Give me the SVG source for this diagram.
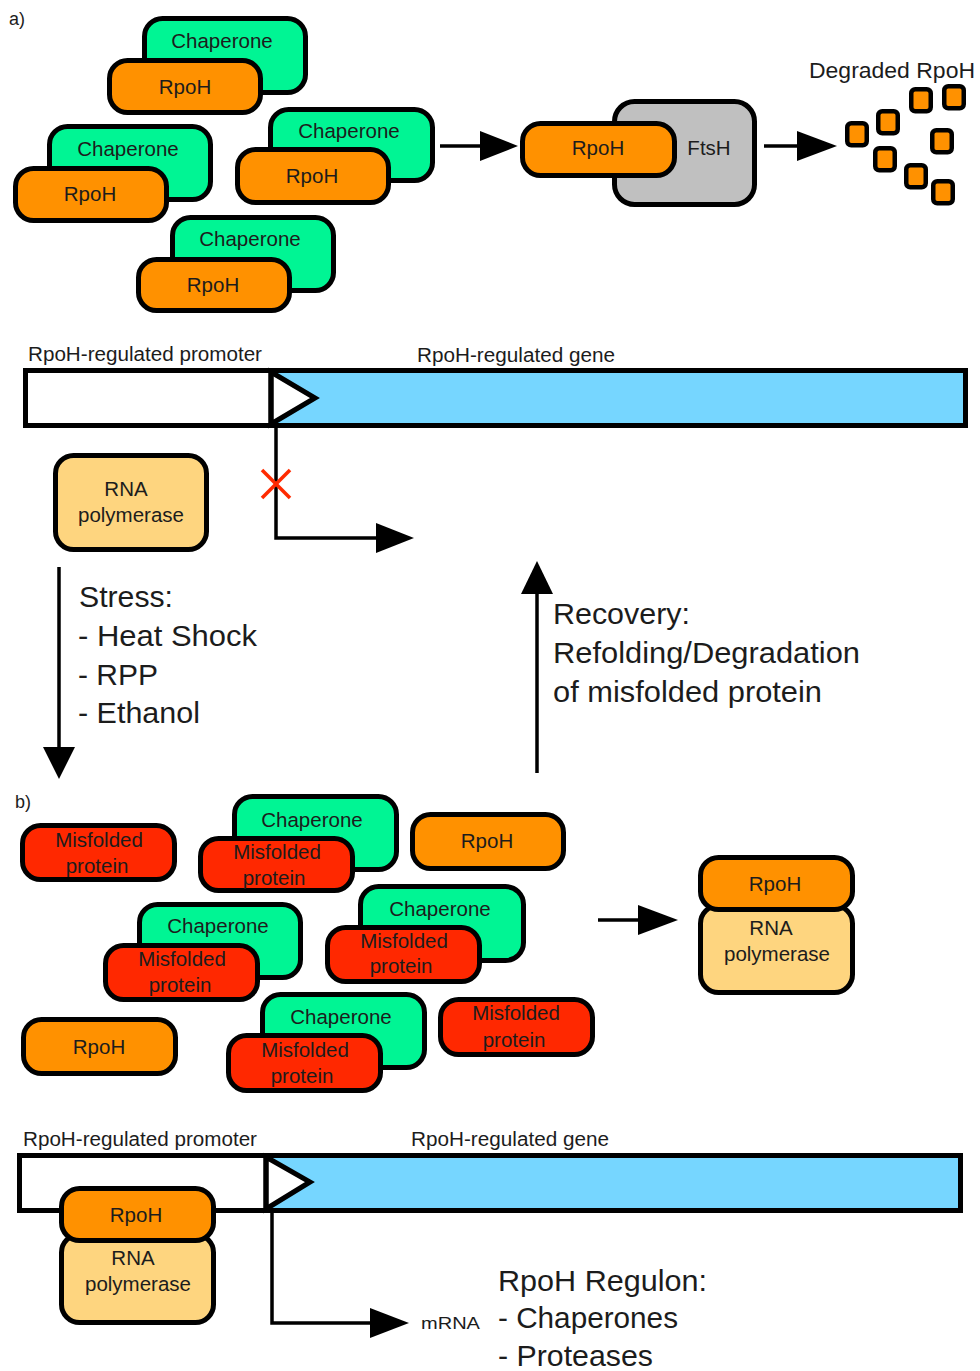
<svg xmlns="http://www.w3.org/2000/svg" width="980" height="1371" viewBox="0 0 980 1371">
<style>
text{font-family:"Liberation Sans",Arial,Helvetica,sans-serif;fill:#1c1c1c}
.m{font-size:20.5px;text-anchor:middle}
.s{font-size:20px}
.b{font-size:29px}
.box{stroke:#000;stroke-width:5}
.ch{fill:#00f594}
.rp{fill:#ff9100}
.mf{fill:#ff2800}
.rn{fill:#fed57f}
.ft{fill:#c0c0c0}
.sq{fill:#ff9100;stroke:#000;stroke-width:4.5}
.ln{stroke:#000;stroke-width:3.5;fill:none}
.hd{fill:#000}
</style>
<rect width="980" height="1371" fill="#fff"/>
<text x="9" y="25" style="font-size:18px">a)</text>
<text x="15" y="808" style="font-size:18px">b)</text>

<!-- Top: chaperone/RpoH complexes -->
<g id="cx1"><rect class="box ch" x="144.5" y="18.5" width="161" height="74" rx="18"/><text class="m" x="222" y="48">Chaperone</text>
<rect class="box rp" x="109.5" y="60.5" width="151" height="52" rx="18"/><text class="m" x="185" y="94">RpoH</text></g>
<g id="cx2"><rect class="box ch" x="49.5" y="126.5" width="161" height="73" rx="18"/><text class="m" x="128" y="156">Chaperone</text>
<rect class="box rp" x="15.5" y="168.5" width="151" height="52" rx="18"/><text class="m" x="90" y="201">RpoH</text></g>
<g id="cx3"><rect class="box ch" x="270.5" y="109.5" width="162" height="71" rx="18"/><text class="m" x="349" y="138">Chaperone</text>
<rect class="box rp" x="237.5" y="149.5" width="151" height="53" rx="18"/><text class="m" x="312" y="183">RpoH</text></g>
<g id="cx4"><rect class="box ch" x="172.5" y="217.5" width="161" height="73" rx="18"/><text class="m" x="250" y="246">Chaperone</text>
<rect class="box rp" x="138.5" y="259.5" width="151" height="51" rx="18"/><text class="m" x="213" y="292">RpoH</text></g>

<g id="ftsh"><rect class="box ft" x="614.5" y="101.5" width="140" height="103" rx="20"/><text class="m" x="709" y="155">FtsH</text>
<rect class="box rp" x="522.5" y="123.5" width="152" height="52" rx="18"/><text class="m" x="598" y="155">RpoH</text></g>

<g id="degraded"><text x="809" y="78" style="font-size:22px" textLength="166" lengthAdjust="spacingAndGlyphs">Degraded RpoH</text>
<rect class="sq" x="847.25" y="123.25" width="19.5" height="22" rx="4"/>
<rect class="sq" x="878.25" y="111.25" width="19.5" height="22" rx="4"/>
<rect class="sq" x="911.25" y="89.25" width="19.5" height="22" rx="4"/>
<rect class="sq" x="944.25" y="86.25" width="19.5" height="22" rx="4"/>
<rect class="sq" x="875.25" y="148.25" width="19.5" height="22" rx="4"/>
<rect class="sq" x="932.25" y="130.25" width="19.5" height="22" rx="4"/>
<rect class="sq" x="906.25" y="165.25" width="19.5" height="22" rx="4"/>
<rect class="sq" x="933.25" y="181.25" width="19.5" height="22" rx="4"/></g>

<!-- Gene 1 -->
<g id="gene1">
<text class="s" x="28" y="361" textLength="234" lengthAdjust="spacingAndGlyphs">RpoH-regulated promoter</text>
<text class="s" x="417" y="362" textLength="198" lengthAdjust="spacingAndGlyphs">RpoH-regulated gene</text>
<rect x="25.5" y="370.5" width="940" height="55" fill="#fff"/>
<rect x="271" y="370.5" width="694.5" height="55" fill="#76d6ff"/>
<polygon points="271,372 315,398 271,424" fill="#fff" stroke="#000" stroke-width="5"/>
<rect x="25.5" y="370.5" width="940" height="55" fill="none" stroke="#000" stroke-width="5"/>
<line x1="271" y1="370" x2="271" y2="426" stroke="#000" stroke-width="5"/>
</g>
<g id="rnap1"><rect class="box rn" x="55.5" y="455.5" width="151" height="94" rx="18"/>
<text class="m" x="126" y="496">RNA</text><text class="m" x="131" y="522">polymerase</text></g>

<!-- Stress / Recovery -->
<g id="stress"><text class="b" x="79" y="607" textLength="94" lengthAdjust="spacingAndGlyphs">Stress:</text>
<text class="b" x="78" y="646" textLength="179" lengthAdjust="spacingAndGlyphs">- Heat Shock</text>
<text class="b" x="78" y="685" textLength="80" lengthAdjust="spacingAndGlyphs">- RPP</text>
<text class="b" x="78" y="723" textLength="122" lengthAdjust="spacingAndGlyphs">- Ethanol</text></g>
<g id="recovery"><text class="b" x="553" y="624" textLength="137" lengthAdjust="spacingAndGlyphs">Recovery:</text>
<text class="b" x="553" y="663" textLength="307" lengthAdjust="spacingAndGlyphs">Refolding/Degradation</text>
<text class="b" x="553" y="702" textLength="269" lengthAdjust="spacingAndGlyphs">of misfolded protein</text></g>

<!-- b) proteins -->
<g id="mf1"><rect class="box mf" x="22.5" y="825.5" width="152" height="54" rx="18"/><text class="m" x="99" y="847">Misfolded</text><text class="m" x="97" y="873">protein</text></g>
<g id="cm1"><rect class="box ch" x="234.5" y="796.5" width="162" height="73" rx="18"/><text class="m" x="312" y="827">Chaperone</text>
<rect class="box mf" x="200.5" y="838.5" width="152" height="52" rx="18"/><text class="m" x="277" y="859">Misfolded</text><text class="m" x="274" y="885">protein</text></g>
<g id="rpb1"><rect class="box rp" x="412.5" y="814.5" width="151" height="54" rx="18"/><text class="m" x="487" y="848">RpoH</text></g>
<g id="cm2"><rect class="box ch" x="139.5" y="904.5" width="161" height="73" rx="18"/><text class="m" x="218" y="933">Chaperone</text>
<rect class="box mf" x="105.5" y="945.5" width="152" height="54" rx="18"/><text class="m" x="182" y="966">Misfolded</text><text class="m" x="180" y="992">protein</text></g>
<g id="cm3"><rect class="box ch" x="360.5" y="886.5" width="163" height="74" rx="18"/><text class="m" x="440" y="916">Chaperone</text>
<rect class="box mf" x="327.5" y="927.5" width="152" height="54" rx="18"/><text class="m" x="404" y="948">Misfolded</text><text class="m" x="401" y="973">protein</text></g>
<g id="cm4"><rect class="box ch" x="262.5" y="994.5" width="162" height="73" rx="18"/><text class="m" x="341" y="1024">Chaperone</text>
<rect class="box mf" x="228.5" y="1035.5" width="152" height="55" rx="18"/><text class="m" x="305" y="1057">Misfolded</text><text class="m" x="302" y="1083">protein</text></g>
<g id="mf5"><rect class="box mf" x="440.5" y="999.5" width="152" height="55" rx="18"/><text class="m" x="516" y="1020">Misfolded</text><text class="m" x="514" y="1047">protein</text></g>
<g id="rpb2"><rect class="box rp" x="23.5" y="1019.5" width="152" height="54" rx="18"/><text class="m" x="99" y="1054">RpoH</text></g>

<g id="holo1"><rect class="box rn" x="700.5" y="905.5" width="152" height="87" rx="18"/>
<rect class="box rp" x="700.5" y="857.5" width="152" height="52" rx="18"/>
<text class="m" x="775" y="891">RpoH</text><text class="m" x="771" y="935">RNA</text><text class="m" x="777" y="961">polymerase</text></g>

<!-- Gene 2 -->
<g id="gene2">
<text class="s" x="23" y="1146" textLength="234" lengthAdjust="spacingAndGlyphs">RpoH-regulated promoter</text>
<text class="s" x="411" y="1146" textLength="198" lengthAdjust="spacingAndGlyphs">RpoH-regulated gene</text>
<rect x="19.5" y="1155.5" width="941" height="55" fill="#fff"/>
<rect x="266" y="1155.5" width="694.5" height="55" fill="#76d6ff"/>
<polygon points="266,1157 310,1182 266,1209" fill="#fff" stroke="#000" stroke-width="5"/>
<rect x="19.5" y="1155.5" width="941" height="55" fill="none" stroke="#000" stroke-width="5"/>
<line x1="266" y1="1155" x2="266" y2="1211" stroke="#000" stroke-width="5"/>
</g>
<g id="holo2"><rect class="box rn" x="61.5" y="1234.5" width="152" height="88" rx="18"/>
<rect class="box rp" x="61.5" y="1188.5" width="152" height="52" rx="18"/>
<text class="m" x="136" y="1222">RpoH</text><text class="m" x="133" y="1265">RNA</text><text class="m" x="138" y="1291">polymerase</text></g>
<text x="421" y="1329" style="font-size:16.5px" textLength="59" lengthAdjust="spacingAndGlyphs">mRNA</text>
<g id="regulon"><text class="b" x="498" y="1291" textLength="209" lengthAdjust="spacingAndGlyphs">RpoH Regulon:</text>
<text class="b" x="498" y="1328" textLength="180" lengthAdjust="spacingAndGlyphs">- Chaperones</text>
<text class="b" x="498" y="1366" textLength="155" lengthAdjust="spacingAndGlyphs">- Proteases</text></g>

<!-- Connectors -->
<g id="connectors">
<line class="ln" x1="440" y1="146" x2="484" y2="146"/><polygon class="hd" points="480,131 518,146 480,161"/>
<line class="ln" x1="764" y1="146" x2="800" y2="146"/><polygon class="hd" points="797,131 837,146 797,161"/>
<polyline class="ln" points="276,428 276,538 380,538"/><polygon class="hd" points="376,523 414,538 376,553"/>
<g stroke="#ff2a00" stroke-width="3.5"><line x1="262" y1="470" x2="290" y2="498"/><line x1="262" y1="498" x2="290" y2="470"/></g>
<line class="ln" x1="59" y1="567" x2="59" y2="752" stroke-width="4"/><polygon class="hd" points="43,747 75,747 59,779"/>
<line class="ln" x1="537" y1="773" x2="537" y2="590" stroke-width="4"/><polygon class="hd" points="521,594 553,594 537,561"/>
<line class="ln" x1="598" y1="920" x2="642" y2="920"/><polygon class="hd" points="638,905 678,920 638,935"/>
<polyline class="ln" points="272,1213 272,1323 374,1323"/><polygon class="hd" points="370,1308 409,1323 370,1338"/>
</g>
</svg>
